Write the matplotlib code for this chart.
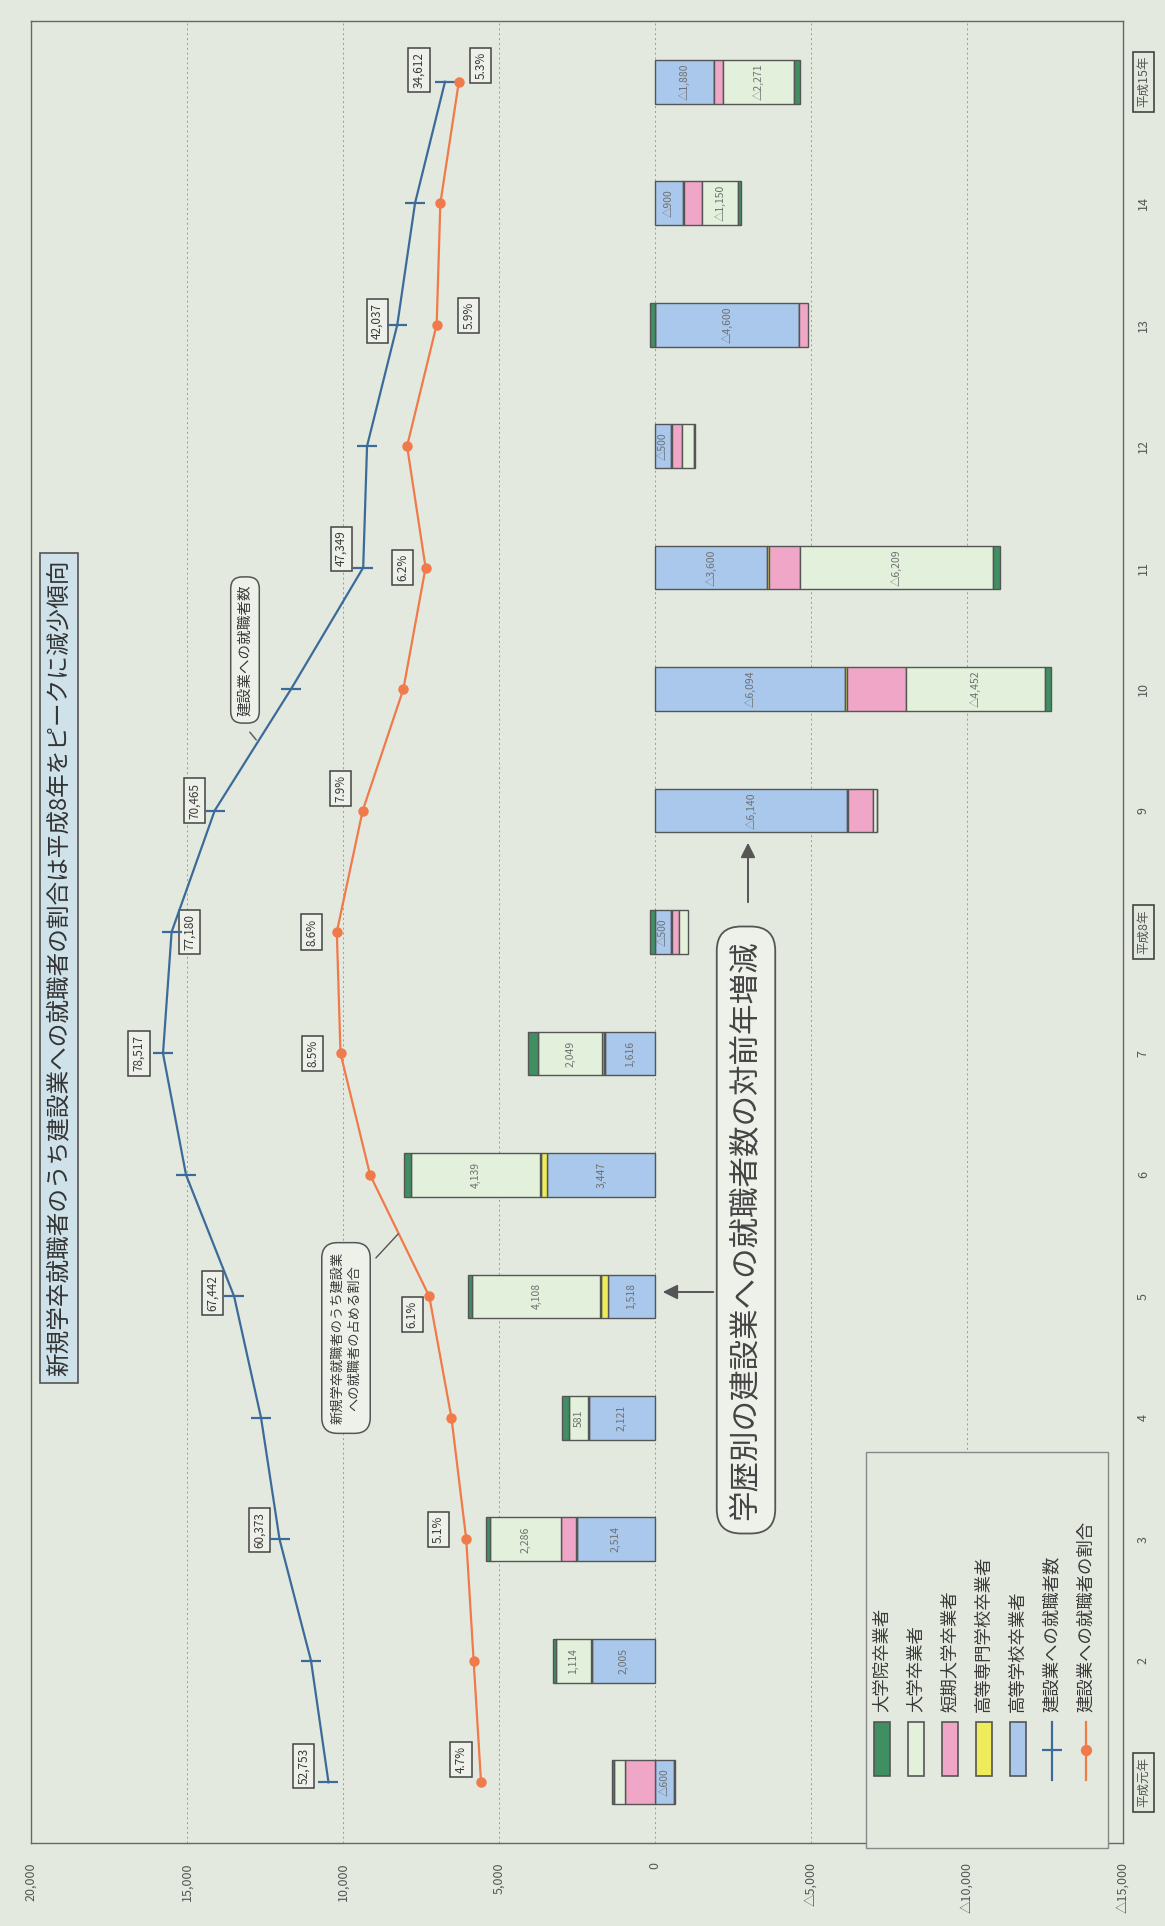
import matplotlib.pyplot as plt
import numpy as np
from matplotlib.patches import Rectangle
from matplotlib.lines import Line2D

plt.rcParams['font.family'] = ['Noto Sans CJK JP', 'DejaVu Sans']

# ---- data ----
years = np.arange(1, 16)
year_labels = ['平成元年', '2', '3', '4', '5', '6', '7', '平成8年',
               '9', '10', '11', '12', '13', '14', '平成15年']

# 建設業への就職者数
workers = [52753, 55470, 60373, 63250, 67442, 74930, 78517, 77180,
           70465, 58580, 47349, 46750, 42037, 39280, 34612]
# 建設業への就職者の割合 (%)
ratio = [4.7, 4.9, 5.1, 5.5, 6.1, 7.7, 8.5, 8.6, 7.9, 6.8, 6.2, 6.7, 5.9, 5.8, 5.3]
labelled_years = [1, 3, 5, 7, 8, 9, 11, 13, 15]

# 学歴別の建設業への就職者数の対前年増減
koukou = [-600, 2005, 2514, 2121, 1518, 3447, 1616, -500, -6140, -6094, -3600, -500, -4600, -900, -1880]
kousen = [-40, 60, 30, 40, 200, 200, 20, -60, -60, -60, -40, -50, -20, -20, -20]
tandai = [950, 0, 470, 0, 30, 30, 60, -200, -800, -1880, -1000, -300, -280, -600, -280]
daigaku = [380, 1114, 2286, 581, 4108, 4139, 2049, -300, -100, -4452, -6209, -400, 0, -1150, -2271]
daigakuin = [60, 80, 120, 240, 150, 240, 320, 150, -20, -200, -200, -20, 150, -100, -200]

series_names = ['高等学校卒業者', '高等専門学校卒業者', '短期大学卒業者', '大学卒業者', '大学院卒業者']
series_colors = ['#a9c8ec', '#efec5c', '#f0a6c6', '#e2f0dc', '#3f8f63']

value_ticks = [20000, 15000, 10000, 5000, 0, -5000, -10000, -15000]
value_labels = ['20,000', '15,000', '10,000', '5,000', '0', '△5,000', '△10,000', '△15,000']

title = '新規学卒就職者のうち建設業への就職者の割合は平成8年をピークに減少傾向'

# label offsets in pixels (dx right, dy down) for the line labels
blue_off = {1: (-25, -16), 3: (-20, -9), 5: (-22, -3), 7: (-24, 0), 8: (18, 0),
            9: (-20, -10), 11: (-22, -19), 13: (-20, -4), 15: (-26, -12)}
orange_off = {1: (-20, -23), 3: (-28, -10), 5: (-17, 18), 7: (-28, 0), 8: (-25, 0),
              9: (-22, -22), 11: (-23, 0), 13: (32, -9), 15: (22, -16)}

BG = '#e4e9df'
INK = '#3a3a3a'

fig = plt.figure(figsize=(11.65, 19.26), dpi=100, facecolor=BG)
ax = fig.add_axes([31 / 1165, 83 / 1926, 1092 / 1165, 1822 / 1926])
ax.set_facecolor(BG)
ax.set_xlim(20000, -15000)
ax.set_ylim(0.5, 15.5)

# stacked bars, positives and negatives stacked from zero separately
pos = np.zeros(len(years))
neg = np.zeros(len(years))
for vals, col, name in zip([koukou, kousen, tandai, daigaku, daigakuin], series_colors, series_names):
    v = np.array(vals, dtype=float)
    left = np.where(v >= 0, pos, neg)
    ax.barh(years, v, left=left, height=0.36, color=col, edgecolor='#555555', lw=1.0, zorder=3)
    if name in ('高等学校卒業者', '大学卒業者'):
        for y, val, l in zip(years, v, left):
            if abs(val) >= 500:
                txt = f'{val:,.0f}' if val > 0 else f'△{abs(val):,.0f}'
                ax.text(l + val / 2, y, txt, rotation=90, ha='center', va='center',
                        fontsize=7.5, color='#707070', zorder=4)
    pos += np.where(v >= 0, v, 0)
    neg += np.where(v < 0, v, 0)

ax.set_xticks(value_ticks)
ax.set_xticklabels(value_labels, rotation=90, fontsize=9, color='#555555')
ax.xaxis.grid(True, ls=(0, (2, 3)), color='#9a9a9a', lw=0.7)
ax.set_axisbelow(True)
ax.tick_params(axis='x', length=0, pad=14)

ax.yaxis.tick_right()
ax.set_yticks(years)
ax.set_yticklabels(year_labels, rotation=90, va='center', fontsize=9, color='#555555')
ax.tick_params(axis='y', length=0, pad=10)
for i in (0, 7, 14):
    ax.get_yticklabels()[i].set_bbox(dict(boxstyle='square,pad=0.35', fc='none', ec='#444444', lw=1.2))
for s in ax.spines.values():
    s.set_color('#666666')
    s.set_linewidth(1.0)

# number of workers (own hidden scale)
axb = ax.twiny()
axb.set_xlim(99070, -70950)
axb.plot(workers, years, color='#3c6b9a', lw=1.6, marker='_', ms=15, mew=1.6, zorder=5)
axb.set_xticks([])
for s in axb.spines.values():
    s.set_visible(False)
for y in labelled_years:
    v = workers[y - 1]
    dx, dy = blue_off[y]
    axb.annotate(f'{v:,}', xy=(v, y), xytext=(dx, -dy), textcoords='offset pixels',
                 rotation=90, ha='center', va='center', fontsize=8.5, color=INK,
                 bbox=dict(boxstyle='square,pad=0.35', fc='#eef1ea', ec='#444444', lw=1.1))

# ratio (own hidden scale)
axo = ax.twiny()
axo.set_xlim(16.87, -12.66)
axo.plot(ratio, years, color='#f07a4a', lw=1.6, marker='o', ms=6.5, zorder=5)
axo.set_xticks([])
for s in axo.spines.values():
    s.set_visible(False)
for y in labelled_years:
    v = ratio[y - 1]
    dx, dy = orange_off[y]
    axo.annotate(f'{v:.1f}%', xy=(v, y), xytext=(dx, -dy), textcoords='offset pixels',
                 rotation=90, ha='center', va='center', fontsize=8.5, color=INK,
                 bbox=dict(boxstyle='square,pad=0.35', fc='#eef1ea', ec='#444444', lw=1.1))

# overlay in image pixels (y down) for title, callouts and legend
ov = fig.add_axes([0, 0, 1, 1], zorder=10)
ov.set_xlim(0, 1165)
ov.set_ylim(1926, 0)
ov.axis('off')

ov.text(59, 968, title, rotation=90, ha='center', va='center', fontsize=17, color='#333333',
        bbox=dict(boxstyle='square,pad=0.3', fc='#cfe2ea', ec='#555555', lw=1.2))

# callout: workers line
ov.annotate('', xy=(258, 742), xytext=(248, 730), arrowprops=dict(arrowstyle='-', color='#555555', lw=1))
ov.text(245, 650, '建設業への就職者数', rotation=90, ha='center', va='center', fontsize=10.5, color=INK,
        bbox=dict(boxstyle='round,pad=0.5,rounding_size=0.8', fc='#eef1ea', ec='#555555', lw=1.1))

# callout: ratio line
ov.annotate('', xy=(400, 1232), xytext=(374, 1260), arrowprops=dict(arrowstyle='-', color='#555555', lw=1))
ov.text(346, 1338, '新規学卒就職者のうち建設業\nへの就職者の占める割合', rotation=90, ha='center', va='center',
        fontsize=9.5, color=INK, linespacing=1.4,
        bbox=dict(boxstyle='round,pad=0.7,rounding_size=1.2', fc='#eef1ea', ec='#555555', lw=1.1))

# callout: bars
ov.text(746, 1230, '学歴別の建設業への就職者数の対前年増減', rotation=90, ha='center', va='center',
        fontsize=22, color='#444444',
        bbox=dict(boxstyle='round,pad=0.45,rounding_size=0.8', fc='#eef1ea', ec='#555555', lw=1.3))
ov.annotate('', xy=(660, 1292), xytext=(716, 1292),
            arrowprops=dict(arrowstyle='-|>', color='#555555', lw=1.4, mutation_scale=22))
ov.annotate('', xy=(748, 840), xytext=(748, 905),
            arrowprops=dict(arrowstyle='-|>', color='#555555', lw=1.4, mutation_scale=22))

# legend (rotated)
ov.add_patch(Rectangle((866, 1452), 242, 396, fc=BG, ec='#888888', lw=1.0))
leg_names = ['大学院卒業者', '大学卒業者', '短期大学卒業者', '高等専門学校卒業者', '高等学校卒業者']
leg_cols = [series_colors[4], series_colors[3], series_colors[2], series_colors[1], series_colors[0]]
for i, (nm, col) in enumerate(zip(leg_names, leg_cols)):
    x = 882 + i * 34
    ov.add_patch(Rectangle((x - 8, 1722), 16, 54, fc=col, ec='#555555', lw=1.2))
    ov.text(x, 1712, nm, rotation=90, ha='center', va='bottom', fontsize=12.5, color=INK)
for j, (nm, col, mk) in enumerate([('建設業への就職者数', '#3c6b9a', '_'),
                                   ('建設業への就職者の割合', '#f07a4a', 'o')]):
    x = 1052 + j * 34
    ov.add_line(Line2D([x, x], [1722, 1780], color=col, lw=1.6))
    ov.add_line(Line2D([x], [1750], color=col, marker=mk, ms=14 if mk == '_' else 6.5, mew=1.6))
    ov.text(x, 1712, nm, rotation=90, ha='center', va='bottom', fontsize=12.5, color=INK)

fig.savefig('out.png', dpi=100, facecolor=BG)
